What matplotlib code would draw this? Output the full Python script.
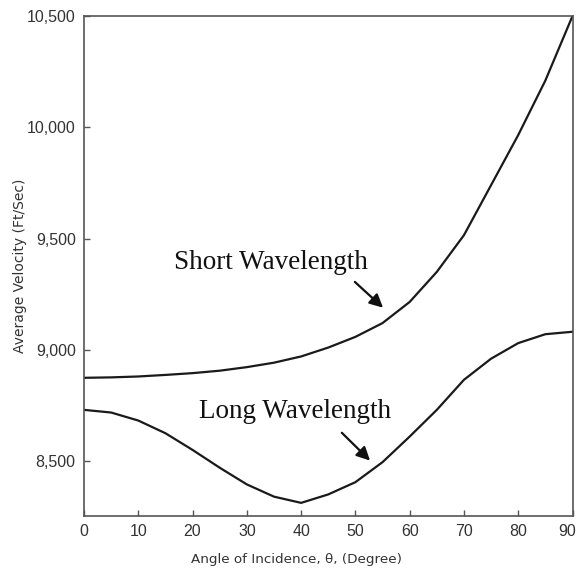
import matplotlib
matplotlib.use("Agg")
import matplotlib.pyplot as plt
from matplotlib.transforms import ScaledTranslation

# angle of incidence (degrees)
angle = [0, 5, 10, 15, 20, 25, 30, 35, 40, 45, 50, 55, 60, 65, 70, 75, 80, 85, 90]

# average velocity (ft/sec)
short_wave = [8874, 8876, 8880, 8887, 8895, 8906, 8922, 8942, 8970, 9010,
              9058, 9120, 9215, 9350, 9515, 9740, 9965, 10210, 10500]
long_wave = [8730, 8718, 8682, 8625, 8550, 8470, 8395, 8340, 8312, 8350,
             8405, 8495, 8610, 8730, 8865, 8960, 9030, 9070, 9081]

xticks = [0, 10, 20, 30, 40, 50, 60, 70, 80, 90]
yticks = [8500, 9000, 9500, 10000, 10500]
ytick_labels = ["8,500", "9,000", "9,500", "10,000", "10,500"]

sans = ["Liberation Sans", "DejaVu Sans"]
serif = ["Liberation Serif", "DejaVu Serif"]
axis_col = "#555555"
line_col = "#1a1a1a"
text_col = "#333333"

fig = plt.figure(figsize=(5.78, 5.73), dpi=100)
ax = fig.add_axes([84 / 578, 1 - 516 / 573, (572.5 - 84) / 578, (516 - 16) / 573])

ax.plot(angle, short_wave, color=line_col, lw=1.6)
ax.plot(angle, long_wave, color=line_col, lw=1.6)

ax.set_xlim(0, 90)
ax.set_ylim(8253, 10500)

ax.set_xticks(xticks)
ax.set_yticks(yticks)
ax.set_yticklabels(ytick_labels)
ax.tick_params(direction="in", length=4, width=1, color=axis_col,
               labelcolor=text_col, labelsize=11.5, pad=6)
for lab in ax.get_xticklabels() + ax.get_yticklabels():
    lab.set_family(sans)
# keep the last x label inside the figure
last = ax.get_xticklabels()[-1]
last.set_transform(last.get_transform() + ScaledTranslation(-5 / 100, 0, fig.dpi_scale_trans))

for sp in ax.spines.values():
    sp.set_color(axis_col)
    sp.set_linewidth(1.2)

ax.set_xlabel("Angle of Incidence, θ, (Degree)", family=["DejaVu Sans"], fontsize=9.7,
              color=text_col)
ax.set_ylabel("Average Velocity (Ft/Sec)", family=["DejaVu Sans"], fontsize=10,
              color=text_col)
ax.xaxis.set_label_coords(0.436, -0.074)
ax.yaxis.set_label_coords(-0.116, 0.5)

# labels with arrows
ax.text(34.5, 9391, "Short Wavelength", family=serif, fontsize=19.5,
        ha="center", va="center", color="#111111")
ax.annotate("", xy=(55.1, 9189), xytext=(49.9, 9305),
            arrowprops=dict(arrowstyle="-|>", color="#111111", lw=1.6,
                            mutation_scale=20, shrinkA=0, shrinkB=0))

ax.text(38.8, 8722, "Long Wavelength", family=serif, fontsize=19.5,
        ha="center", va="center", color="#111111")
ax.annotate("", xy=(52.7, 8502), xytext=(47.5, 8627),
            arrowprops=dict(arrowstyle="-|>", color="#111111", lw=1.6,
                            mutation_scale=20, shrinkA=0, shrinkB=0))

fig.savefig("out.png", dpi=100)
